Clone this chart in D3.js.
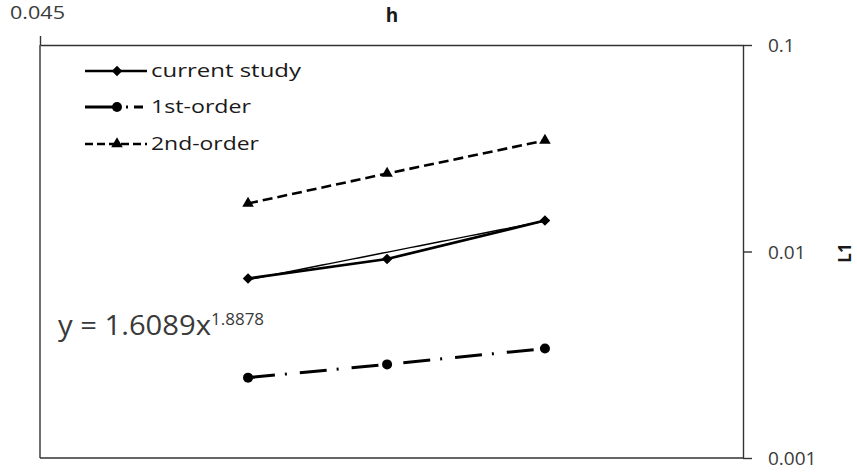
<!DOCTYPE html>
<html><head><meta charset="utf-8">
<script src="https://cdn.jsdelivr.net/npm/d3@7"></script>
<style>body{margin:0;background:#fff}svg{display:block}</style>
</head><body>
<svg id="chart" width="857" height="476"></svg>
<script>
// ---- data ----
const hValues = [0.05738, 0.0675, 0.08117];
const currentStudy = [0.0074, 0.0092, 0.01413];
const firstOrder = [0.00245, 0.00284, 0.00339];
const secondOrder = [0.01708, 0.02386, 0.03447];
const seriesNames = ["current study", "1st-order", "2nd-order"];
const xTickValues = [0.045];
const yTickValues = [0.001, 0.01, 0.1];
const xTickLabels = ["0.045"];
const yTickLabels = ["0.001", "0.01", "0.1"];
const xDomain = [0.045, 0.1023];
const yDomain = [0.001, 0.1];
const fitCoef = 1.6089, fitExp = 1.8878;
const equationMain = "y = 1.6089x";
const equationSup = "1.8878";
const xTitle = "h", yTitle = "L1";

// ---- layout ----
const L = 40, R = 743, T = 45, B = 458;
const svg = d3.select("#chart");
const axisColor = "#333";
const labelColor = "#3a3a3a";
const font = "'Open Sans', 'Liberation Sans', Arial, sans-serif";

const x = d3.scaleLog().domain(xDomain).range([L, R]);
const y = d3.scaleLog().domain(yDomain).range([B, T]);

// frame: left and bottom border
svg.append("line").attr("x1", L).attr("x2", L).attr("y1", T).attr("y2", B)
  .attr("stroke", axisColor).attr("stroke-width", 1.4);
svg.append("line").attr("x1", L).attr("x2", R).attr("y1", B).attr("y2", B)
  .attr("stroke", axisColor).attr("stroke-width", 1.4);

// top x axis
const xAxis = d3.axisTop(x).tickValues(xTickValues)
  .tickFormat((d, i) => xTickLabels[i]).tickSize(9).tickSizeOuter(0).tickPadding(17);
const gx = svg.append("g").attr("transform", `translate(0,${T})`).call(xAxis);
gx.select(".domain").attr("stroke", axisColor).attr("stroke-width", 1.4);
gx.selectAll(".tick line").attr("stroke", axisColor).attr("stroke-width", 1.4);
gx.selectAll(".tick text").attr("font-family", font).attr("font-size", 19)
  .attr("fill", labelColor).attr("dx", -3).attr("textLength", 55).attr("lengthAdjust", "spacingAndGlyphs");

// right y axis
const yAxis = d3.axisRight(y).tickValues(yTickValues)
  .tickFormat((d, i) => yTickLabels[i]).tickSize(9).tickSizeOuter(0).tickPadding(16);
const gy = svg.append("g").attr("transform", `translate(${R},0)`).call(yAxis);
gy.select(".domain").attr("stroke", axisColor).attr("stroke-width", 1.4);
gy.selectAll(".tick line").attr("stroke", axisColor).attr("stroke-width", 1.4);
gy.selectAll(".tick text").attr("font-family", font).attr("font-size", 19)
  .attr("fill", labelColor).attr("dy", "0.36em");

// axis titles
svg.append("text").attr("x", (L + R) / 2 + 0.5).attr("y", 22)
  .attr("text-anchor", "middle").attr("font-family", font).attr("font-weight", "bold")
  .attr("font-size", 19).attr("fill", "#1a1a1a").text(xTitle);
svg.append("text").attr("transform", `translate(851,253) rotate(-90)`)
  .attr("text-anchor", "middle").attr("font-family", font).attr("font-weight", "bold")
  .attr("font-size", 17).attr("fill", "#1a1a1a").text(yTitle);

// series
const seriesData = [currentStudy, firstOrder, secondOrder];
const styles = [
  {width: 2.7, dash: null, legendDash: null, marker: "diamond"},
  {width: 3, dash: "27,10,2,13", legendDash: "28,13,2,6,9,20", marker: "circle"},
  {width: 2.6, dash: "10,5", legendDash: "8,4", marker: "triangle"}
];
const line = d3.line().x(d => x(d[0])).y(d => y(d[1]));

function drawMarker(g, type, cx, cy) {
  if (type === "circle") {
    g.append("circle").attr("cx", cx).attr("cy", cy).attr("r", 5).attr("fill", "#000");
  } else if (type === "diamond") {
    g.append("path").attr("d", d3.symbol().type(d3.symbolSquare).size(56)())
      .attr("transform", `translate(${cx},${cy}) rotate(45)`).attr("fill", "#000");
  } else {
    g.append("path").attr("d", d3.symbol().type(d3.symbolTriangle).size(58)())
      .attr("transform", `translate(${cx},${cy})`).attr("fill", "#000");
  }
}

// trendline from the power-law fit shown on the chart
const trendPts = d3.range(0, 41).map(i => {
  const h = hValues[0] * Math.pow(hValues[2] / hValues[0], i / 40);
  return [h, fitCoef * Math.pow(h, fitExp)];
});
svg.append("path").attr("d", line(trendPts)).attr("fill", "none")
  .attr("stroke", "#000").attr("stroke-width", 1.4);

seriesData.forEach((vals, si) => {
  const pts = hValues.map((h, i) => [h, vals[i]]);
  const st = styles[si];
  const g = svg.append("g");
  g.append("path").attr("d", line(pts)).attr("fill", "none")
    .attr("stroke", "#000").attr("stroke-width", st.width)
    .attr("stroke-dasharray", st.dash);
  pts.forEach(p => drawMarker(g, st.marker, x(p[0]), y(p[1])));
});

// legend
const legendRows = [71, 107, 144];
const legendWidths = [150, 100, 108];
seriesNames.forEach((name, i) => {
  const st = styles[i];
  const ly = legendRows[i];
  const g = svg.append("g");
  g.append("line").attr("x1", 85).attr("x2", 147).attr("y1", ly).attr("y2", ly)
    .attr("stroke", "#000").attr("stroke-width", st.width)
    .attr("stroke-dasharray", st.legendDash);
  drawMarker(g, st.marker, 117, ly);
  g.append("text").attr("x", 151).attr("y", ly + 6)
    .attr("font-family", font).attr("font-size", 19).attr("fill", "#1a1a1a")
    .attr("textLength", legendWidths[i]).attr("lengthAdjust", "spacingAndGlyphs")
    .text(name);
});

// equation label
const eq = svg.append("text").attr("x", 58).attr("y", 335)
  .attr("font-family", font).attr("fill", labelColor);
eq.append("tspan").attr("font-size", 28).attr("textLength", 153)
  .attr("lengthAdjust", "spacingAndGlyphs").text(equationMain);
eq.append("tspan").attr("font-size", 17).attr("dy", -10).text(equationSup);
</script>
</body></html>
